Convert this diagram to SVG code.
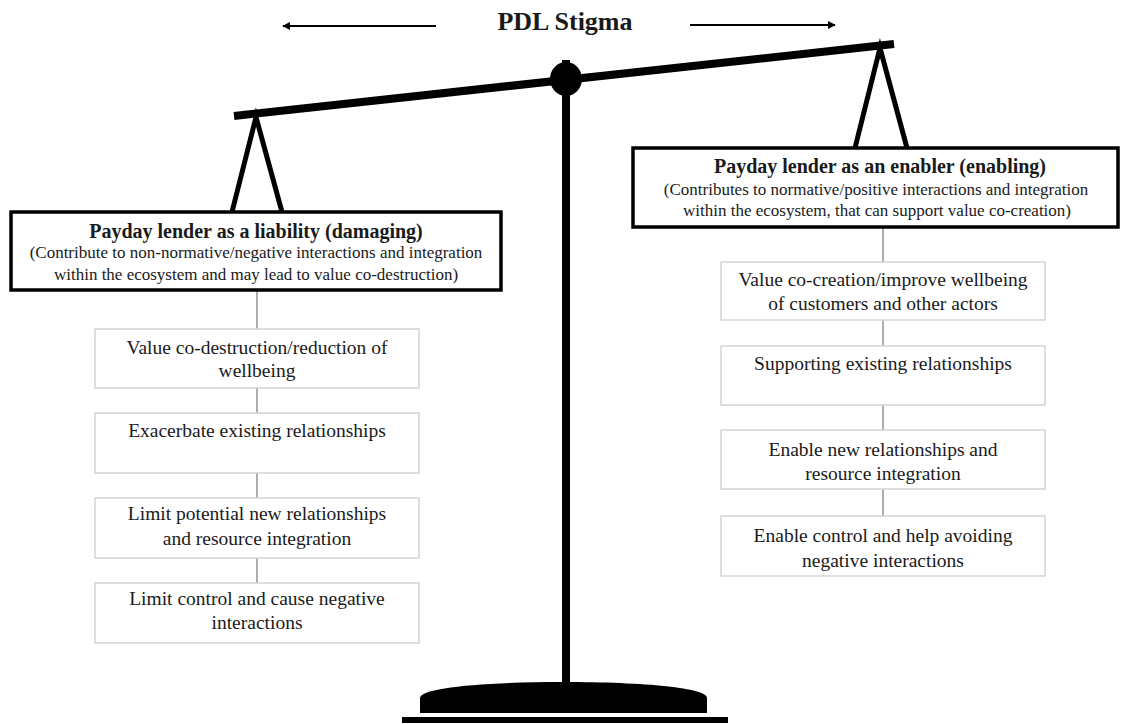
<svg xmlns="http://www.w3.org/2000/svg" width="1127" height="724" viewBox="0 0 1127 724">
<defs>
<style>
.t{font-family:"Liberation Serif","Times New Roman",serif;fill:#1a1a1a;text-anchor:middle}
.ttl{font-size:20px;font-weight:bold}
.sub{font-size:17px}
.box{font-size:19.5px}
.hdr{fill:#fff;stroke:#000;stroke-width:3.5}
.sb{fill:#fff;stroke:#d4d4d4;stroke-width:1.5}
.con{stroke:#808080;stroke-width:1.3;fill:none}
.arr{stroke:#000;stroke-width:2;fill:none}
.tri{stroke:#000;stroke-width:5;fill:none;stroke-linejoin:miter}
</style>
<marker id="ah" viewBox="0 0 10 10" refX="9" refY="5" markerWidth="4" markerHeight="4" orient="auto-start-reverse">
<path d="M0,0 L10,5 L0,10 Z" fill="#000"/>
</marker>
</defs>
<rect width="1127" height="724" fill="#fff"/>

<g id="scale">
<line x1="566" y1="60" x2="566" y2="684" stroke="#000" stroke-width="8"/>
<path d="M420,713 V698 C420,688 480,682 563,682 C646,682 707,688 707,698 V713 Z" fill="#000"/>
<rect x="402" y="717" width="326" height="6" fill="#000"/>
<line x1="234" y1="116" x2="894" y2="44" stroke="#000" stroke-width="8"/>
<ellipse cx="566" cy="79" rx="16" ry="17" fill="#000"/>
<polyline class="tri" points="232,212 256,117 282,212"/>
<polyline class="tri" points="855,148 880,48 907,148"/>
</g>

<g id="title">
<text class="t" x="565" y="30" font-size="26" font-weight="bold">PDL Stigma</text>
<line class="arr" x1="436" y1="26" x2="283" y2="26" marker-end="url(#ah)"/>
<line class="arr" x1="690" y1="25" x2="835" y2="25" marker-end="url(#ah)"/>
</g>

<g id="connectors">
<line class="con" x1="257" y1="291" x2="257" y2="329"/>
<line class="con" x1="257" y1="388" x2="257" y2="413"/>
<line class="con" x1="257" y1="473" x2="257" y2="498"/>
<line class="con" x1="257" y1="558" x2="257" y2="583"/>
<line class="con" x1="883" y1="227" x2="883" y2="262"/>
<line class="con" x1="883" y1="320" x2="883" y2="346"/>
<line class="con" x1="883" y1="405" x2="883" y2="430"/>
<line class="con" x1="883" y1="489" x2="883" y2="516"/>
</g>

<g id="liability">
<rect class="hdr" x="11" y="212" width="490" height="78"/>
<text class="t ttl" x="256" y="238">Payday lender as a liability (damaging)</text>
<text class="t sub" x="256" y="258">(Contribute to non-normative/negative interactions and integration</text>
<text class="t sub" x="256" y="280">within the ecosystem and may lead to value co-destruction)</text>
</g>

<g id="enabler">
<rect class="hdr" x="633" y="148" width="485" height="79"/>
<text class="t ttl" x="880" y="173">Payday lender as an enabler (enabling)</text>
<text class="t sub" x="876" y="195">(Contributes to normative/positive interactions and integration</text>
<text class="t sub" x="877" y="216">within the ecosystem, that can support value co-creation)</text>
</g>

<g id="l1">
<rect class="sb" x="95" y="329" width="324" height="59"/>
<text class="t box" x="257" y="354">Value co-destruction/reduction of</text>
<text class="t box" x="257" y="377">wellbeing</text>
</g>
<g id="l2">
<rect class="sb" x="95" y="413" width="324" height="60"/>
<text class="t box" x="257" y="437">Exacerbate existing relationships</text>
</g>
<g id="l3">
<rect class="sb" x="95" y="498" width="324" height="60"/>
<text class="t box" x="257" y="520">Limit potential new relationships</text>
<text class="t box" x="257" y="545">and resource integration</text>
</g>
<g id="l4">
<rect class="sb" x="95" y="583" width="324" height="60"/>
<text class="t box" x="257" y="605">Limit control and cause negative</text>
<text class="t box" x="257" y="629">interactions</text>
</g>

<g id="r1">
<rect class="sb" x="721" y="262" width="324" height="58"/>
<text class="t box" x="883" y="286">Value co-creation/improve wellbeing</text>
<text class="t box" x="883" y="310">of customers and other actors</text>
</g>
<g id="r2">
<rect class="sb" x="721" y="346" width="324" height="59"/>
<text class="t box" x="883" y="370">Supporting existing relationships</text>
</g>
<g id="r3">
<rect class="sb" x="721" y="430" width="324" height="59"/>
<text class="t box" x="883" y="456">Enable new relationships and</text>
<text class="t box" x="883" y="480">resource integration</text>
</g>
<g id="r4">
<rect class="sb" x="721" y="516" width="324" height="60"/>
<text class="t box" x="883" y="542">Enable control and help avoiding</text>
<text class="t box" x="883" y="567">negative interactions</text>
</g>
</svg>
